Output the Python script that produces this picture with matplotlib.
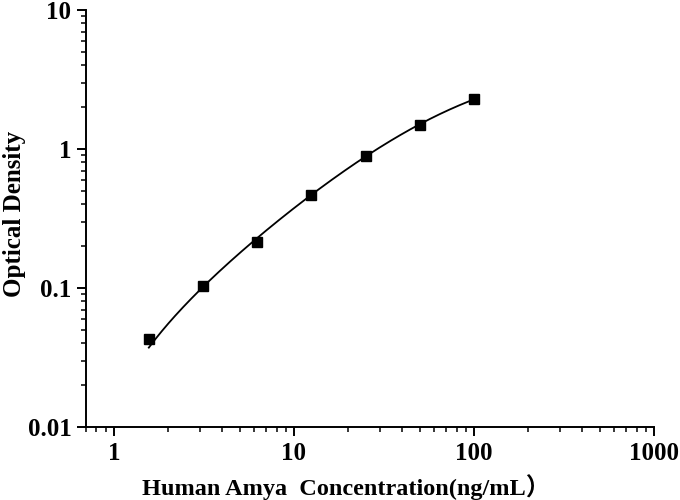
import numpy as np
import matplotlib
matplotlib.use('Agg')
import matplotlib.pyplot as plt
from matplotlib.ticker import LogLocator, FixedLocator, NullFormatter

conc = [1.5625, 3.125, 6.25, 12.5, 25, 50, 100]
od = [0.043, 0.103, 0.216, 0.469, 0.896, 1.50, 2.28]
xticks = [1, 10, 100, 1000]
xticklabels = ['1', '10', '100', '1000']
yticks = [0.01, 0.1, 1, 10]
yticklabels = ['0.01', '0.1', '1', '10']


def four_pl(x, p):
    a, b, c, d = p
    return d + (a - d) / (1 + (x / c) ** b)


def fit_4pl(x, y):
    # small Levenberg-Marquardt on the standard 4PL
    p = np.array([0.0, 1.2, 40.0, 4.0])
    lam = 1e-3
    for _ in range(500):
        r = y - four_pl(x, p)
        J = np.zeros((len(x), 4))
        for k in range(4):
            dp = np.zeros(4)
            dp[k] = 1e-6 * max(abs(p[k]), 1e-3)
            J[:, k] = (four_pl(x, p + dp) - four_pl(x, p)) / dp[k]
        A = J.T @ J
        g = J.T @ r
        step = np.linalg.solve(A + lam * np.diag(np.diag(A)), g)
        new = p + step
        if np.all(np.isfinite(new)) and new[2] > 0 and \
                np.sum((y - four_pl(x, new)) ** 2) < np.sum(r ** 2):
            p = new
            lam *= 0.3
        else:
            lam *= 10
    return p


x = np.array(conc)
y = np.array(od)
params = fit_4pl(x, y)
xs = np.logspace(np.log10(x.min()), np.log10(x.max()), 200)
ys = four_pl(xs, params)

plt.rcParams['font.family'] = ['Liberation Serif', 'Noto Sans CJK SC']
plt.rcParams['font.weight'] = 'bold'

fig = plt.figure(figsize=(6.8, 5), dpi=100)
ax = fig.add_axes([0.1265, 0.146, 0.8355, 0.834])

ax.plot(xs, ys, color='black', lw=1.3)
ax.plot(x, y, 's', color='black', ms=7.5)

ax.set_xscale('log')
ax.set_yscale('log')
ax.set_xlim(0.7, 1000)
ax.set_ylim(0.01, 10)

ax.xaxis.set_major_locator(FixedLocator(xticks))
ax.set_xticklabels(xticklabels)
ax.yaxis.set_major_locator(FixedLocator(yticks))
ax.set_yticklabels(yticklabels)
ax.xaxis.set_minor_locator(LogLocator(base=10, subs=np.arange(2, 10)))
ax.yaxis.set_minor_locator(LogLocator(base=10, subs=np.arange(2, 10)))
ax.xaxis.set_minor_formatter(NullFormatter())
ax.yaxis.set_minor_formatter(NullFormatter())

for s in ['top', 'right']:
    ax.spines[s].set_visible(False)
for s in ['left', 'bottom']:
    ax.spines[s].set_linewidth(1.4)

ax.tick_params(which='major', direction='out', length=6.5, width=1.4,
               labelsize=18)
ax.tick_params(axis='x', which='major', pad=4.5)
ax.tick_params(axis='y', which='major', pad=4)
ax.tick_params(which='minor', direction='out', length=3.5, width=1.1)

ax.set_xlabel('Human Amya  Concentration(ng/mL）', fontsize=17.5,
              fontweight='bold')
ax.set_ylabel('Optical Density', fontsize=18, fontweight='bold')
ax.xaxis.set_label_coords(0.458, -0.114)
ax.yaxis.set_label_coords(-0.105, 0.51)

fig.savefig('out.png', dpi=100)
